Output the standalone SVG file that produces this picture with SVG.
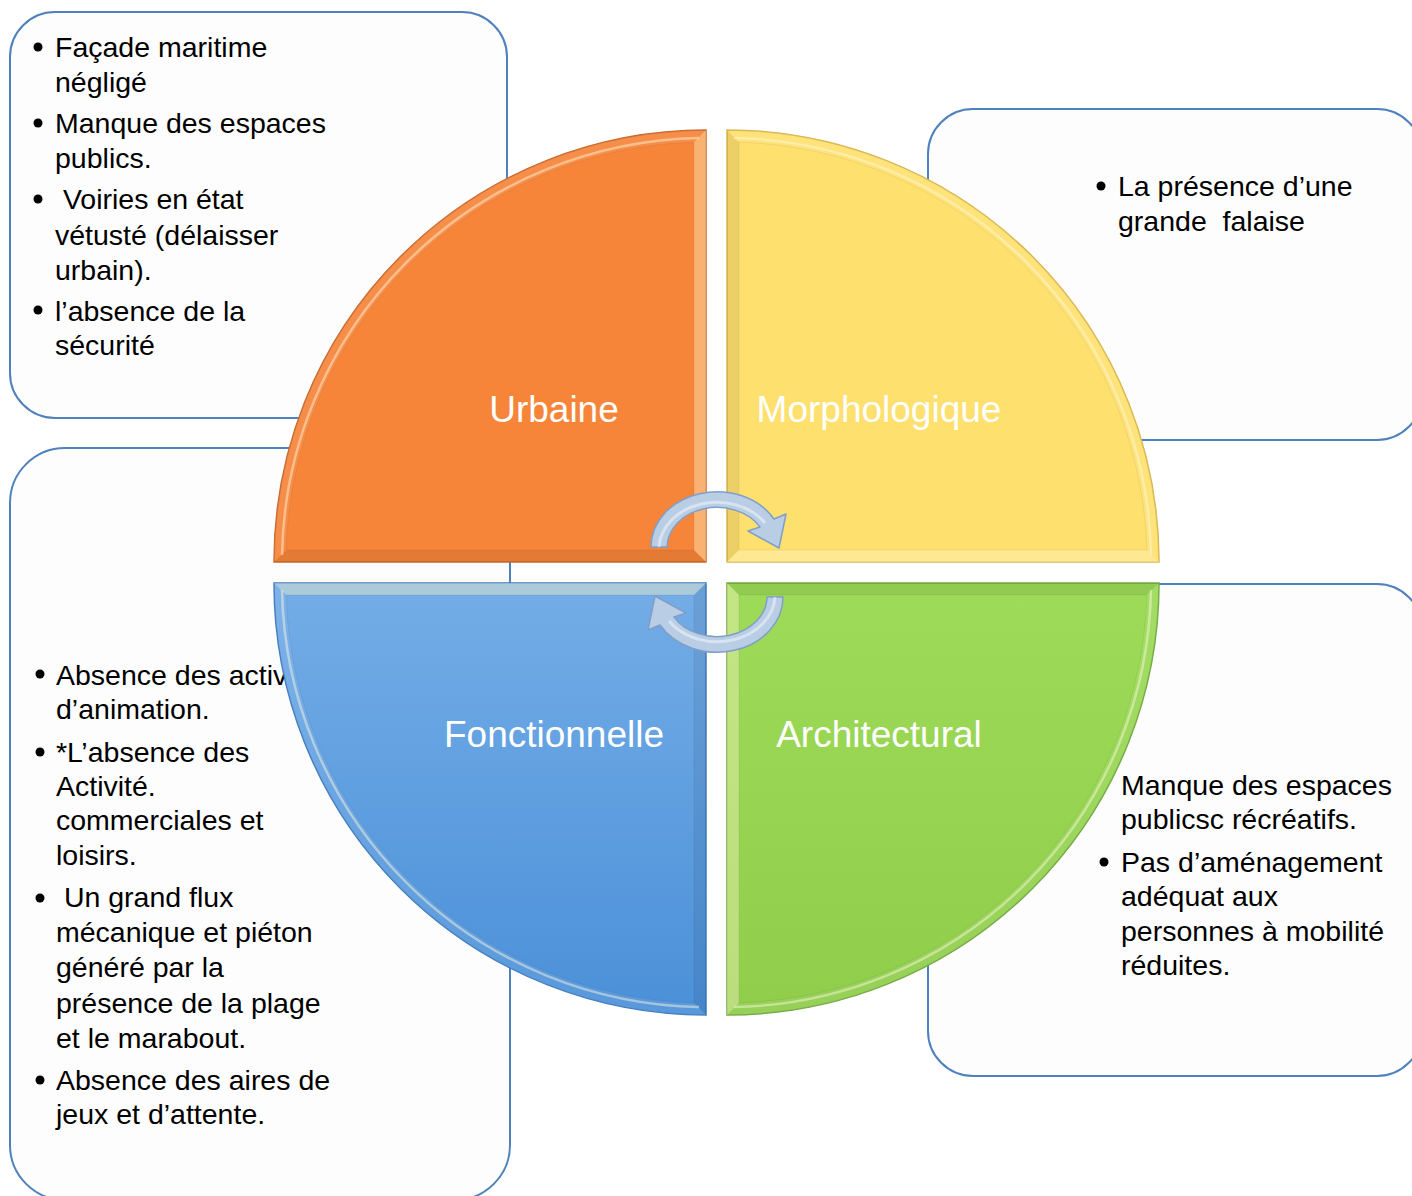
<svg xmlns="http://www.w3.org/2000/svg" xmlns:xlink="http://www.w3.org/1999/xlink" width="1412" height="1196" viewBox="0 0 1412 1196">
<style>
  .box { fill: #fdfdfd; stroke: #4f81bd; stroke-width: 2; }
  .txt { font-family: "Liberation Sans", Arial, sans-serif; font-size: 28.5px; fill: #000; }
  .lbl { font-family: "Liberation Sans", Arial, sans-serif; font-size: 37px; fill: #fff; text-anchor: middle; }
  .bul { fill: #000; }
  .arrow { fill: #b9cde5; stroke: #7f9fc8; stroke-width: 1.5; stroke-linejoin: round; }
  .arrowhl { fill: none; stroke: #ffffff; stroke-opacity: 0.45; stroke-width: 3; }
</style>
<defs>
  <path id="quad" d="M 0 0 L -432 0 A 432 432 0 0 1 0 -432 Z"/>
  <g id="bevel">
    <polygon points="0,-432 0,0 -12,-12 -12,-419.83" fill="#fff6c8" fill-opacity="0.4"/>
    <polygon points="0,0 -432,0 -419.83,-12 -12,-12" fill="#000000" fill-opacity="0.07"/>
    <path d="M -432 0 A 432 432 0 0 1 0 -432 L -12 -419.83 A 420 420 0 0 0 -419.83 -12 Z" fill="#ffffff" fill-opacity="0.08"/>
    <path d="M -424 -7 A 425 425 0 0 1 -7 -424" fill="none" stroke="#fffbe0" stroke-opacity="0.45" stroke-width="2.5"/>
    <path d="M -12 -419.83 L -12 -12 L -419.83 -12 A 420 420 0 0 1 -12 -419.83" fill="none" stroke="#000" stroke-opacity="0.06" stroke-width="1"/>
  </g>
  <linearGradient id="gBlue" gradientUnits="userSpaceOnUse" x1="0" y1="0" x2="-432" y2="0">
    <stop offset="0" stop-color="#74ade7"/>
    <stop offset="1" stop-color="#4b90d8"/>
  </linearGradient>
  <linearGradient id="gGreen" gradientUnits="userSpaceOnUse" x1="0" y1="0" x2="0" y2="-432">
    <stop offset="0" stop-color="#9ddb58"/>
    <stop offset="1" stop-color="#8fcd4b"/>
  </linearGradient>
</defs>

<!-- Text panels (behind the pie) -->
<g id="panel-urbaine">
  <rect class="box" x="10" y="12" width="497" height="406" rx="45" ry="45"/>
  <circle class="bul" cx="38" cy="47" r="4.5"/>
  <text class="txt" x="55" y="57">Façade maritime</text>
  <text class="txt" x="55" y="92">négligé</text>
  <circle class="bul" cx="38" cy="123" r="4.5"/>
  <text class="txt" x="55" y="133">Manque des espaces</text>
  <text class="txt" x="55" y="168">publics.</text>
  <circle class="bul" cx="38" cy="199" r="4.5"/>
  <text class="txt" x="55" y="209" style="white-space:pre"> Voiries en état</text>
  <text class="txt" x="55" y="245">vétusté (délaisser</text>
  <text class="txt" x="55" y="280">urbain).</text>
  <circle class="bul" cx="38" cy="310" r="4.5"/>
  <text class="txt" x="55" y="321">l’absence de la</text>
  <text class="txt" x="55" y="355">sécurité</text>
</g>

<g id="panel-morphologique">
  <rect class="box" x="928" y="109" width="494" height="331" rx="45" ry="45"/>
  <circle class="bul" cx="1101" cy="186" r="4.5"/>
  <text class="txt" x="1118" y="196">La présence d’une</text>
  <text class="txt" x="1118" y="231" style="white-space:pre">grande  falaise</text>
</g>

<g id="panel-fonctionnelle">
  <rect class="box" x="10" y="448" width="500" height="752" rx="55" ry="55"/>
  <circle class="bul" cx="40" cy="674" r="4.5"/>
  <text class="txt" x="56" y="685">Absence des activ</text>
  <text class="txt" x="56" y="719">d’animation.</text>
  <circle class="bul" cx="40" cy="752" r="4.5"/>
  <text class="txt" x="56" y="762">*L’absence des</text>
  <text class="txt" x="56" y="796">Activité.</text>
  <text class="txt" x="56" y="830">commerciales et</text>
  <text class="txt" x="56" y="865">loisirs.</text>
  <circle class="bul" cx="40" cy="898" r="4.5"/>
  <text class="txt" x="56" y="907" style="white-space:pre"> Un grand flux</text>
  <text class="txt" x="56" y="942">mécanique et piéton</text>
  <text class="txt" x="56" y="977">généré par la</text>
  <text class="txt" x="56" y="1013">présence de la plage</text>
  <text class="txt" x="56" y="1048">et le marabout.</text>
  <circle class="bul" cx="40" cy="1080" r="4.5"/>
  <text class="txt" x="56" y="1090">Absence des aires de</text>
  <text class="txt" x="56" y="1124">jeux et d’attente.</text>
</g>

<g id="panel-architectural">
  <rect class="box" x="928" y="584" width="494" height="492" rx="45" ry="45"/>
  <circle class="bul" cx="1104" cy="785" r="4.5"/>
  <text class="txt" x="1121" y="795">Manque des espaces</text>
  <text class="txt" x="1121" y="829">publicsc récréatifs.</text>
  <circle class="bul" cx="1104" cy="862" r="4.5"/>
  <text class="txt" x="1121" y="872">Pas d’aménagement</text>
  <text class="txt" x="1121" y="906">adéquat aux</text>
  <text class="txt" x="1121" y="941">personnes à mobilité</text>
  <text class="txt" x="1121" y="975">réduites.</text>
</g>

<!-- Pie quadrants -->
<g id="node-urbaine">
  <g transform="translate(706 562)">
    <use xlink:href="#quad" fill="#f6853a" stroke="#c8682a" stroke-width="1.5"/>
    <use xlink:href="#bevel"/>
  </g>
  <text class="lbl" x="554" y="422">Urbaine</text>
</g>

<g id="node-morphologique">
  <g transform="translate(727 562) rotate(90)">
    <use xlink:href="#quad" fill="#fee06f" stroke="#d9b64c" stroke-width="1.5"/>
    <use xlink:href="#bevel"/>
  </g>
  <text class="lbl" x="879" y="422">Morphologique</text>
</g>

<g id="node-fonctionnelle">
  <g transform="translate(706 583) rotate(-90)">
    <use xlink:href="#quad" fill="url(#gBlue)" stroke="#3f7cc0" stroke-width="1.5"/>
    <use xlink:href="#bevel"/>
  </g>
  <text class="lbl" x="554" y="747">Fonctionnelle</text>
</g>

<g id="node-architectural">
  <g transform="translate(727 583) rotate(180)">
    <use xlink:href="#quad" fill="url(#gGreen)" stroke="#72aa3c" stroke-width="1.5"/>
    <use xlink:href="#bevel"/>
  </g>
  <text class="lbl" x="879" y="747">Architectural</text>
</g>

<!-- Circular arrows -->
<g id="connectors">
  <path class="arrow" d="M 651 547 A 66 55 0 0 1 774 519 L 786 514 L 779 548 L 748 531 L 760 527 A 50 40 0 0 0 667 547 Z"/>
  <path class="arrowhl" d="M 659 547 A 58 47 0 0 1 765 523"/>
  <path class="arrow" d="M 783 597 A 66 55 0 0 1 660 625 L 648 630 L 655 596 L 686 613 L 674 617 A 50 40 0 0 0 767 597 Z"/>
  <path class="arrowhl" d="M 775 597 A 58 47 0 0 1 669 621"/>
</g>
</svg>
